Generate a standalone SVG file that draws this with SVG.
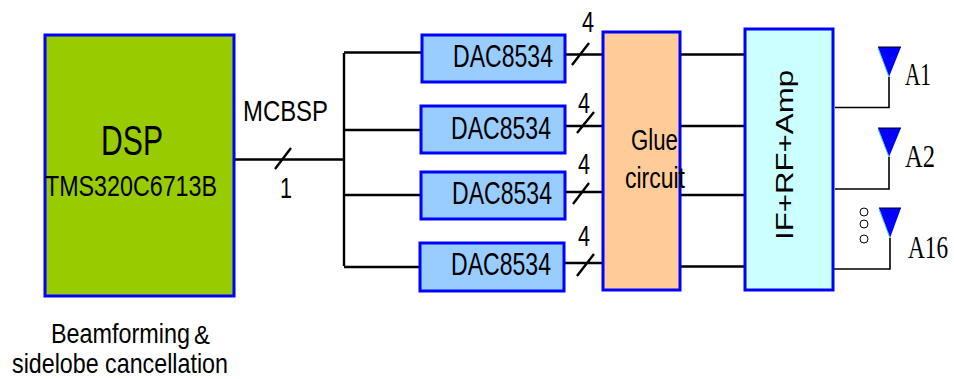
<svg xmlns="http://www.w3.org/2000/svg" width="954" height="379" viewBox="0 0 954 379">
<style>
text{font-family:"Liberation Sans",Arial,sans-serif;fill:#000}
.b{stroke:#0000ff;stroke-width:3}
.w{stroke:#000;stroke-width:2.4;fill:none}
.t{stroke:#000;stroke-width:1.6;fill:none}
.d{fill:#99ccff}
.ant{fill:#0000ff}
.edge{fill:none;stroke:#33cccc;stroke-width:1}
.top{fill:none;stroke:#000;stroke-width:1}
.dl{font-size:31px}
.n{font-size:30px}
.s{font-family:"Liberation Serif",serif;font-size:32px}
</style>
<g id="connectors">
<path class="w" d="M235 159.500H344M344 53V266M344 52.500H422M344 130H421M344 195H421M344 267H420"/>
<path class="w" d="M566 54.500H603M566 126H603M566 192H603M565 263H603M680 54.500H745M680 126H745M680 195H745M680 266.500H745"/>
<path class="w" d="M275 169L291 148M572 65L589 43M577 133L594 112M573 204L589 183M577 276L594 254"/>
<path class="t" d="M835 107.500H889V77M835 189H889V157M830 269H890V238"/>
</g>
<g id="dsp"><rect class="b" x="45" y="35" width="189" height="261" fill="#99cc00"/>
<text x="101" y="155" font-size="42" textLength="62" lengthAdjust="spacingAndGlyphs">DSP</text>
<text x="45" y="196" font-size="30" textLength="172" lengthAdjust="spacingAndGlyphs">TMS320C6713B</text></g>
<g id="dac1"><rect class="b d" x="422" y="35" width="143" height="47"/><text class="dl" transform="translate(453 67) scale(.744 1)">DAC8534</text></g>
<g id="dac2"><rect class="b d" x="421" y="106" width="144" height="47"/><text class="dl" transform="translate(451 139) scale(.744 1)">DAC8534</text></g>
<g id="dac3"><rect class="b d" x="421" y="172" width="144" height="47"/><text class="dl" transform="translate(452 204) scale(.744 1)">DAC8534</text></g>
<g id="dac4"><rect class="b d" x="420" y="243" width="144" height="48"/><text class="dl" transform="translate(451 275) scale(.744 1)">DAC8534</text></g>
<g id="glue"><rect class="b" x="603" y="32" width="77" height="258" fill="#ffcc99"/>
<text x="631" y="150" font-size="30" textLength="47" lengthAdjust="spacingAndGlyphs">Glue</text><text x="625" y="188" font-size="30" textLength="60" lengthAdjust="spacingAndGlyphs">circuit</text></g>
<g id="ifrf"><rect class="b" x="745" y="29" width="88" height="261" fill="#ccffff"/>
<text transform="translate(793 240) rotate(-90)" font-size="24" textLength="170" lengthAdjust="spacingAndGlyphs">IF+RF+Amp</text></g>
<g id="a1"><path class="ant" d="M878 47H901L889 77Z"/><path class="edge" d="M878 48L889 77"/><path class="top" d="M878 47H901"/><text class="s" x="905" y="85" textLength="26" lengthAdjust="spacingAndGlyphs">A1</text></g>
<g id="a2"><path class="ant" d="M878 128H901L889 157Z"/><path class="edge" d="M878 129L889 157"/><path class="top" d="M878 128H901"/><text class="s" x="905" y="167" textLength="30" lengthAdjust="spacingAndGlyphs">A2</text></g>
<g id="a16"><path class="ant" d="M879 208H901L890 238Z"/><path class="edge" d="M879 209L890 238"/><path class="top" d="M879 208H901"/><text class="s" transform="translate(908 258) scale(.727 1)">A16</text></g>
<g id="dots" fill="none" stroke="#000" stroke-width="1"><circle cx="864" cy="212" r="4"/><circle cx="864" cy="224" r="4"/><circle cx="864" cy="239" r="4"/></g>
<g id="labels">
<text class="n" x="243" y="121" textLength="85" lengthAdjust="spacingAndGlyphs">MCBSP</text>
<text class="n" x="280" y="198" textLength="12" lengthAdjust="spacingAndGlyphs">1</text>
<text class="n" x="582" y="32" textLength="12" lengthAdjust="spacingAndGlyphs">4</text><text class="n" x="578" y="113" textLength="12" lengthAdjust="spacingAndGlyphs">4</text><text class="n" x="578" y="174" textLength="12" lengthAdjust="spacingAndGlyphs">4</text><text class="n" x="578" y="246" textLength="12" lengthAdjust="spacingAndGlyphs">4</text>
<text transform="translate(51 342.800) scale(.866 1)" font-size="27">Beamforming</text>
<text transform="translate(194 343.500) scale(.92 1)" font-size="26">&amp;</text>
<text transform="translate(12 373) scale(.862 1)" font-size="27">sidelobe cancellation</text>
</g>
</svg>
